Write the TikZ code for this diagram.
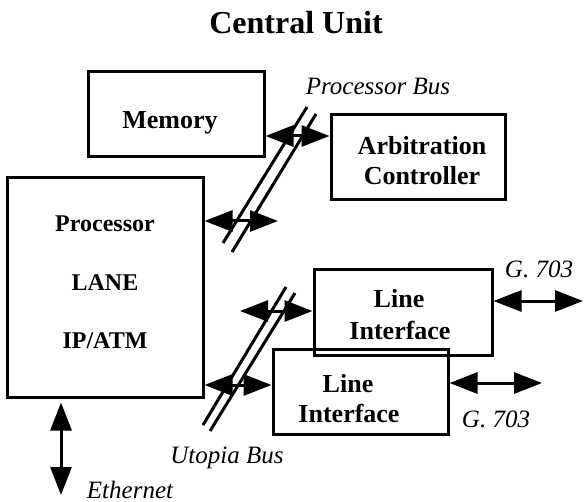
\documentclass[tikz,border=0pt]{standalone}
\usepackage{fontspec}
\setmainfont{Liberation Serif}
\usetikzlibrary{arrows.meta}

\tikzset{
  box/.style={draw, line width=3pt, inner sep=0pt},
  bold/.style={font=\bfseries\fontsize{26}{30}\selectfont, anchor=base, inner sep=0pt},
  pbold/.style={font=\bfseries\fontsize{24}{28}\selectfont, anchor=base, inner sep=0pt},
  ital/.style={font=\itshape\fontsize{25}{30}\selectfont, anchor=base, inner sep=0pt},
  bus/.style={line width=3pt},
  biarrow/.style={line width=3pt, {Triangle[length=28pt,width=21pt]}-{Triangle[length=28pt,width=21pt]}}
}

\begin{document}
\begin{tikzpicture}[x=1pt,y=-1pt]
\useasboundingbox (0,0) rectangle (585,502);

   \node[font=\bfseries\fontsize{32}{38}\selectfont, anchor=base] at (296,34) (title) {Central Unit};

   % boxes
   \node[box, minimum width=176pt, minimum height=85pt] at (176,114.5) (mem) {};
   \node[box, minimum width=174pt, minimum height=85pt] at (418,157.5) (arb) {};
   \node[box, minimum width=196pt, minimum height=219pt] at (105,287.5) (proc) {};
   \node[box, minimum width=178pt, minimum height=86pt] at (403,312) (lia) {};
   \node[box, minimum width=175pt, minimum height=85pt] at (360.5,391.5) (lib) {};

   \node[bold] at (170,129) (memtxt) {Memory};
   \node[bold] at (422,155) (arbtxt) {Arbitration};
   \node[bold] at (422,185) (ctltxt) {Controller};
   \node[pbold] at (105,232) (proctxt) {Processor};
   \node[pbold] at (105,290) (lanetxt) {LANE};
   \node[pbold] at (105,348) (iptxt) {IP/ATM};
   \node[bold] at (399,307) (liatxt) {Line};
   \node[bold] at (400,339) (liaitxt) {Interface};
   \node[bold] at (348,392) (libtxt) {Line};
   \node[bold] at (349,422) (libitxt) {Interface};

   % labels
   \node[ital] at (378,95) (pbus) {Processor Bus};
   \node[ital] at (227,463) (ubus) {Utopia Bus};
   \node[ital] at (130,498) (ethtxt) {Ethernet};
   \node[ital] at (539,277) (ga) {G. 703};
   \node[ital] at (496,427) (gb) {G. 703};

   % processor bus
   \draw[bus] (307,107) -- (223,243);
   \draw[bus] (316,114) -- (232,252);
   % utopia bus
   \draw[bus] (286,287) -- (203,425);
   \draw[bus] (295,293) -- (210,431);

   \coordinate (pb1) at (297,136);
   \coordinate (pb2) at (278,221);
   \coordinate (ub1) at (240,311);
   \coordinate (ub2) at (240,385);
   \coordinate (g1) at (583,301);
   \coordinate (g2) at (542,383);
   \coordinate (eth) at (61,495);

   \draw[biarrow] (pb1 -| mem.east) -- (pb1 -| arb.west);
   \draw[biarrow] (pb2 -| proc.east) -- (pb2);
   \draw[biarrow] (ub1) -- (ub1 -| lia.west);
   \draw[biarrow] (ub2 -| proc.east) -- (ub2 -| lib.west);
   \draw[biarrow] (g1 -| lia.east) -- (g1);
   \draw[biarrow] (g2 -| lib.east) -- (g2);
   \draw[biarrow, shorten <=4pt] (eth |- proc.south) -- (eth);

\end{tikzpicture}
\end{document}
